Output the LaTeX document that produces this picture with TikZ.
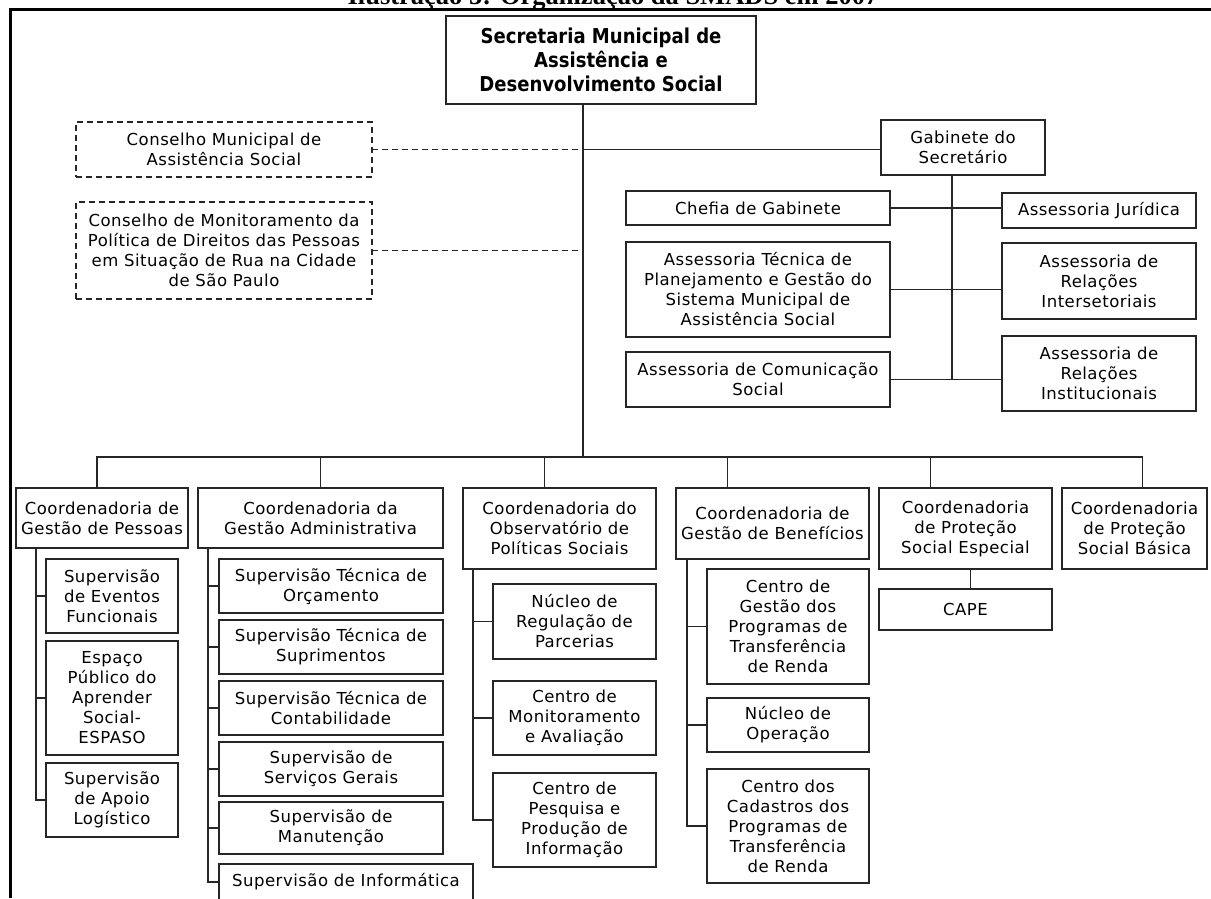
\documentclass[tikz,border=0pt]{standalone}
\usepackage{fontspec}
\setmainfont{DejaVu Sans}[LetterSpace=3]
\newfontfamily\headfont[FakeStretch=0.88]{DejaVu Sans}
\newfontfamily\capfont{Liberation Serif}
\usetikzlibrary{positioning}

\begin{document}
\begin{tikzpicture}[x=1pt,y=-1pt]
  \tikzset{unit/.style={rectangle, draw=black!85, line width=1.8pt, align=center,
      inner sep=2pt, outer sep=0pt, font=\fontsize{16.5}{20}\selectfont}}
  \tikzset{council/.style={unit, dash pattern=on 6pt off 4pt}}
  \tikzset{dims/.style 2 args={minimum width=#1pt, minimum height=#2pt}}
  \tikzset{link/.style={draw=black!85, line width=1.8pt}}

  \useasboundingbox (0,0) rectangle (1211,898);

  % caption and frame, cut at the top
  \node[anchor=base, inner sep=0pt, font=\capfont\bfseries\fontsize{26.5}{30}\selectfont] (caption) at (613,4.5) {Ilustração 5: Organização da SMADS em 2007};
  \draw[line width=3pt] (1211,9) -| (10,898);

  \node[unit, dims={310}{88}, font=\headfont\bfseries\fontsize{20.5}{24}\selectfont] (sec) at (601,60) {Secretaria Municipal de\\Assistência e\\Desenvolvimento Social};

  \node[council, dims={296}{55}, anchor=north west] (cmas) at (76,122) {Conselho Municipal de\\Assistência Social};
  \node[council, dims={296}{97}, below=25pt of cmas] (crua) {Conselho de Monitoramento da\\Política de Direitos das Pessoas\\em Situação de Rua na Cidade\\de São Paulo};

  \node[unit, dims={164}{55}, anchor=north west] (gab) at (881,120) {Gabinete do\\Secretário};
  \node[unit, dims={264}{34}, anchor=north west] (chefia) at (626,191) {Chefia de Gabinete};
  \node[unit, dims={264}{95}, below=17pt of chefia] (tec) {Assessoria Técnica de\\Planejamento e Gestão do\\Sistema Municipal de\\Assistência Social};
  \node[unit, dims={264}{55}, below=15pt of tec] (com) {Assessoria de Comunicação\\Social};
  \node[unit, dims={194}{35}, anchor=north west] (jur) at (1002,193) {Assessoria Jurídica};
  \node[unit, dims={194}{76}, below=15pt of jur] (inter) {Assessoria de\\Relações\\Intersetoriais};
  \node[unit, dims={194}{75}, below=17pt of inter] (inst) {Assessoria de\\Relações\\Institucionais};

  % coordenadorias
  \node[unit, dims={172}{60}, anchor=north west] (c1) at (16,488) {Coordenadoria de\\Gestão de Pessoas};
  \node[unit, dims={245}{60}, below right=0pt and 10pt of c1.north east] (c2) {Coordenadoria da\\Gestão Administrativa};
  \node[unit, dims={193}{81}, below right=0pt and 20pt of c2.north east] (c3) {Coordenadoria do\\Observatório de\\Políticas Sociais};
  \node[unit, dims={193}{71}, below right=0pt and 20pt of c3.north east] (c4) {Coordenadoria de\\Gestão de Benefícios};
  \node[unit, dims={173}{81}, below right=0pt and 10pt of c4.north east] (c5) {Coordenadoria\\de Proteção\\Social Especial};
  \node[unit, dims={145}{81}, below right=0pt and 10pt of c5.north east] (c6) {Coordenadoria\\de Proteção\\Social Básica};

  \node[unit, dims={132}{74}, below right=11pt and 30pt of c1.south west] (s11) {Supervisão\\de Eventos\\Funcionais};
  \node[unit, dims={132}{114}, below=8pt of s11] (s12) {Espaço\\Público do\\Aprender\\Social-\\ESPASO};
  \node[unit, dims={132}{74}, below=8pt of s12] (s13) {Supervisão\\de Apoio\\Logístico};

  \node[unit, dims={224}{54}, below right=11pt and 21pt of c2.south west] (s21) {Supervisão Técnica de\\Orçamento};
  \node[unit, dims={224}{54}, below=7pt of s21] (s22) {Supervisão Técnica de\\Suprimentos};
  \node[unit, dims={224}{54}, below=7pt of s22] (s23) {Supervisão Técnica de\\Contabilidade};
  \node[unit, dims={224}{54}, below=7pt of s23] (s24) {Supervisão de\\Serviços Gerais};
  \node[unit, dims={224}{52}, below=6pt of s24] (s25) {Supervisão de\\Manutenção};
  \node[unit, dims={254}{36}, below right=10pt and 0pt of s25.south west] (s26) {Supervisão de Informática};

  \node[unit, dims={163}{75}, below right=15pt and 30pt of c3.south west] (s31) {Núcleo de\\Regulação de\\Parcerias};
  \node[unit, dims={163}{74}, below=22pt of s31] (s32) {Centro de\\Monitoramento\\e Avaliação};
  \node[unit, dims={163}{94}, below=18pt of s32] (s33) {Centro de\\Pesquisa e\\Produção de\\Informação};

  \node[unit, dims={162}{115}, below right=10pt and 31pt of c4.south west] (s41) {Centro de\\Gestão dos\\Programas de\\Transferência\\de Renda};
  \node[unit, dims={162}{54}, below=14pt of s41] (s42) {Núcleo de\\Operação};
  \node[unit, dims={162}{114}, below=17pt of s42] (s43) {Centro dos\\Cadastros dos\\Programas de\\Transferência\\de Renda};

  \node[unit, dims={173}{41}, below=20pt of c5] (cape) {CAPE};

  \coordinate (hub) at (583,457);
  \coordinate (gx) at (952,0);

  \draw[link] (sec.south -| hub) -- (hub);
  \draw[link, dash pattern=on 6pt off 4pt] (cmas.east) -- (cmas.east -| hub);
  \draw[link, dash pattern=on 6pt off 4pt] (crua.east) -- (crua.east -| hub);
  \draw[link] (cmas.east -| hub) -- (gab.west |- cmas.east);
  \draw[link] (gab.south -| gx) -- (gx |- com.east);
  \foreach \lft/\rgt in {chefia/jur, tec/inter, com/inst}
    \draw[link] (\lft.east) -- (\rgt.west |- \lft.east);

  \foreach \co/\dx in {c1/-5, c2/0, c3/-15, c4/-45, c5/-35, c6/8}
    \draw[link] ([xshift=\dx pt]\co.north) |- (hub);

  \coordinate (l1) at ([xshift=20pt]c1.south west);
  \coordinate (l2) at ([xshift=10pt]c2.south west);
  \coordinate (l3) at ([xshift=10pt]c3.south west);
  \coordinate (l4) at ([xshift=11pt]c4.south west);
  \foreach \s in {s11,s12,s13} \draw[link] (l1) |- (\s.west);
  \foreach \s in {s21,s22,s23,s24,s25,s26} \draw[link] (l2) |- (\s.west);
  \foreach \s in {s31,s32,s33} \draw[link] (l3) |- (\s.west);
  \foreach \s in {s41,s42,s43} \draw[link] (l4) |- (\s.west);
  \draw[link] ([xshift=5pt]c5.south) -- ([xshift=5pt]cape.north);
\end{tikzpicture}
\end{document}
